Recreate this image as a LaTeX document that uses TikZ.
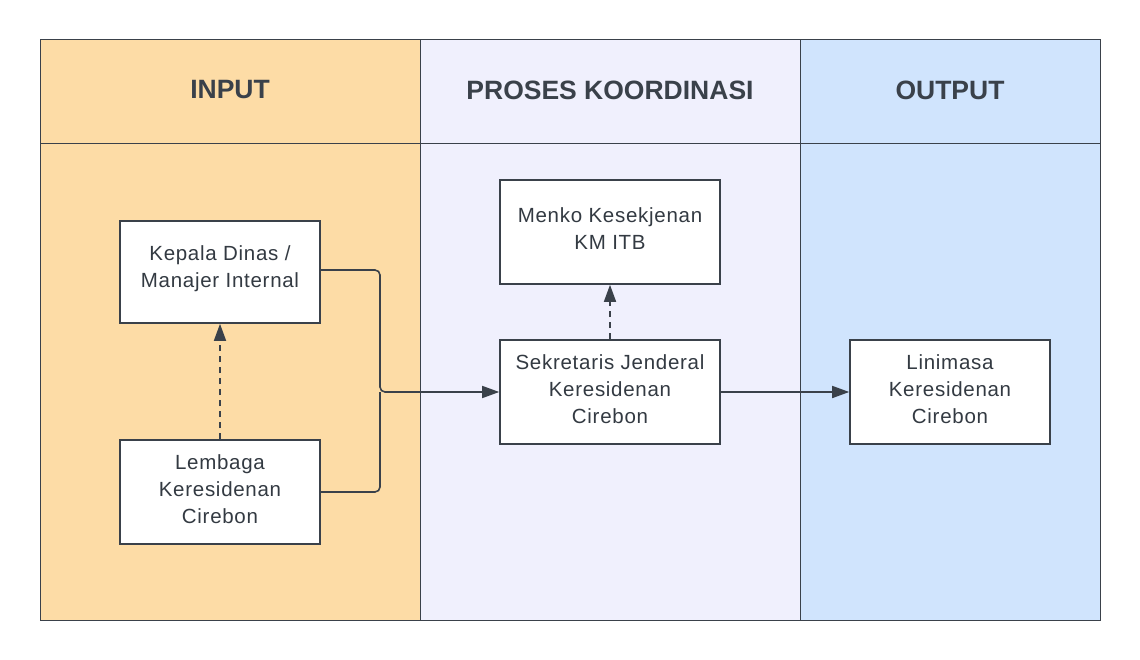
\documentclass[tikz,border=0pt]{standalone}
\usepackage{fontspec}
\setmainfont{Liberation Sans}
\newfontfamily\boxfont[LetterSpace=3.5]{Liberation Sans}
\usetikzlibrary{arrows.meta}
\definecolor{lineC}{HTML}{3A414A}
\definecolor{inC}{HTML}{FDDCA6}
\definecolor{midC}{HTML}{F0F0FD}
\definecolor{outC}{HTML}{D0E4FD}
\definecolor{txtC}{HTML}{333A42}
\tikzset{
  lane/.style={draw=lineC, line width=1pt},
  head/.style={font=\fontsize{26.5}{30}\selectfont\bfseries, text=lineC, anchor=center},
  box/.style={draw=lineC, line width=1.6pt, fill=white, minimum width=200pt, minimum height=102pt, inner sep=0pt},
  lbl/.style={align=center, text=txtC, font=\boxfont\fontsize{20.5}{27}\selectfont, inner sep=0pt},
  conn/.style={draw=lineC, line width=1.6pt, rounded corners=5pt},
  arr/.style={-{Triangle[length=17pt,width=12pt]}}
}
\begin{document}
\begin{tikzpicture}[x=1pt,y=-1pt]
\useasboundingbox (0,0) rectangle (1140,660);
\fill[white] (0,0) rectangle (1140,660);
\fill[inC] (40,40) rectangle (420,620);
\fill[midC] (420,40) rectangle (800,620);
\fill[outC] (800,40) rectangle (1100,620);
\draw[lane] (40,40) rectangle (1100,620);
\draw[lane] (40,144) -- (1100,144);
\draw[lane] (420,40) -- (420,620);
\draw[lane] (800,40) -- (800,620);
\node[head] (h1) at (230,90) {INPUT};
\node[head] (h2) at (610,90) {PROSES KOORDINASI};
\node[head] (h3) at (950,90) {OUTPUT};

\node[box] (kep) at (220,272) {};
\node[box, minimum height=104pt] (lem) at (220,492) {};
\node[box, minimum width=220pt, minimum height=104pt] (men) at (610,232) {};
\node[box, minimum width=220pt, minimum height=104pt] (sek) at (610,392) {};
\node[box, minimum height=104pt] (lin) at (950,392) {};

\node[lbl] (kept) at ([yshift=3pt]kep.center) {Kepala Dinas /\\Manajer Internal};
\node[lbl] (lemt) at ([yshift=3pt]lem.center) {Lembaga\\Keresidenan\\Cirebon};
\node[lbl] (ment) at ([yshift=3pt]men.center) {Menko Kesekjenan\\KM ITB};
\node[lbl] (sekt) at ([yshift=3pt]sek.center) {Sekretaris Jenderal\\Keresidenan\\Cirebon};
\node[lbl] (lint) at ([yshift=3pt]lin.center) {Linimasa\\Keresidenan\\Cirebon};

\coordinate (j) at (380,392);
\draw[conn, arr] (kep.east |- 0,270) -| (j) -- (sek.west);
\draw[conn] (lem.east) -| (j);
\draw[conn, arr] (sek.east) -- (lin.west);
\draw[conn, arr, dash pattern=on 6pt off 5pt] (sek.north) -- (men.south);
\draw[conn, arr, dash pattern=on 6pt off 5pt] (lem.north) -- (kep.south);
\end{tikzpicture}
\end{document}
